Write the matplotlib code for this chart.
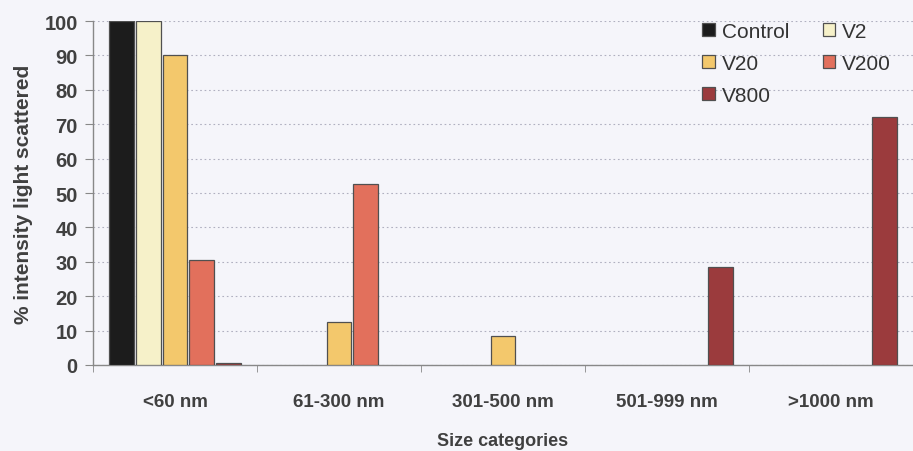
import numpy as np
import matplotlib.pyplot as plt

plt.rcParams['font.family'] = ['Liberation Sans', 'DejaVu Sans']

categories = ['<60 nm', '61-300 nm', '301-500 nm', '501-999 nm', '>1000 nm']
series = ['Control', 'V2', 'V20', 'V200', 'V800']
control = [100, 0, 0, 0, 0]
v2 = [100, 0, 0, 0, 0]
v20 = [90, 12.5, 8.5, 0, 0]
v200 = [30.5, 52.5, 0, 0, 0]
v800 = [0.5, 0, 0, 28.5, 72]
colors = ['#1c1c1c', '#f6f1c9', '#f3c86c', '#e2705c', '#9b3b3d']

values = [control, v2, v20, v200, v800]
bg = '#f5f5fa'
text_col = '#404040'

fig = plt.figure(figsize=(9.13, 4.52), dpi=100, facecolor=bg)
ax = fig.add_axes([93 / 913, 86 / 452, 820 / 913, 344 / 452], facecolor=bg)

x = np.arange(len(categories))
step = 0.163
width = 0.152
handles = []
for k, (name, vals, c) in enumerate(zip(series, values, colors)):
    vals = np.array(vals, dtype=float)
    keep = vals > 0  # empty bars are not drawn in the original
    pos = x + (k - 2) * step
    h = ax.bar(pos[keep], vals[keep], width, color=c, edgecolor='#505050',
               linewidth=0.9, label=name, zorder=3)
    handles.append(h)

ax.set_ylim(0, 100)
ax.set_xlim(-0.5, 4.44)
ax.set_yticks(np.arange(0, 101, 10))
ax.set_xticks(x, categories)
ax.set_xticks(np.arange(-0.5, 4.6, 1), minor=True)
ax.tick_params(axis='x', which='major', length=0, pad=20)
ax.tick_params(axis='x', which='minor', length=5, color='#888888', direction='out')
ax.tick_params(axis='y', length=6, color='#888888', direction='out', pad=5)
for lbl in ax.get_xticklabels():
    lbl.set_fontweight('bold')
    lbl.set_color(text_col)
    lbl.set_fontsize(13.5)
for lbl in ax.get_yticklabels():
    lbl.set_fontweight('bold')
    lbl.set_color(text_col)
    lbl.set_fontsize(14.5)

ax.yaxis.grid(True, linestyle=(0, (1.5, 2.5)), color='#b0b0c0', linewidth=0.8, zorder=0)
for s in ['top', 'right']:
    ax.spines[s].set_visible(False)
for s in ['left', 'bottom']:
    ax.spines[s].set_color('#888888')
    ax.spines[s].set_linewidth(1.0)

ax.set_ylabel('% intensity light scattered', fontsize=15, fontweight='bold',
              color=text_col, labelpad=8)
ax.set_xlabel('Size categories', fontsize=13, fontweight='bold',
              color=text_col, labelpad=16)

# row-major legend order: Control, V2 / V20, V200 / V800
order = [0, 2, 4, 1, 3]
leg = fig.legend([handles[i] for i in order], [series[i] for i in order],
                 ncol=2, loc='upper left', bbox_to_anchor=(702 / 913, 1 - 23 / 452),
                 frameon=False, fontsize=15, handlelength=0.6, handleheight=0.6,
                 handletextpad=0.35, columnspacing=1.6, labelspacing=0.62,
                 borderpad=0, borderaxespad=0)
for t in leg.get_texts():
    t.set_color('#333333')

fig.savefig('out.png', dpi=100, facecolor=bg)
